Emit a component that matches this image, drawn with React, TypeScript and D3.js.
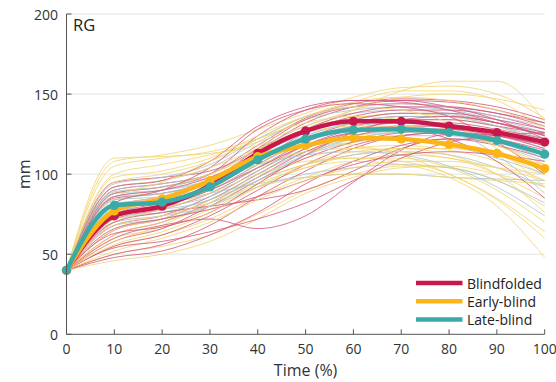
import * as d3 from 'd3';

const TIMES = [0, 10, 20, 30, 40, 50, 60, 70, 80, 90, 100];
const Y_TICKS = [0, 50, 100, 150, 200];

const GROUPS = ['Blindfolded', 'Early-blind', 'Late-blind'];

const MEAN_BLINDFOLDED = [40, 74, 80, 93, 113, 127, 133, 133, 130, 126, 120];
const MEAN_EARLY = [40, 77, 84.5, 96, 111, 118, 122.5, 122, 118.5, 113, 103.5];
const MEAN_LATE = [40, 80.5, 82.5, 92, 109, 122, 127.5, 128, 126, 121, 112.5];

const TRIALS_BLINDFOLDED = [
  [40, 95, 98, 102, 115, 132, 142, 146, 145, 140, 132],
  [40, 90, 94, 100, 118, 135, 144, 147, 146, 142, 134],
  [40, 85, 88, 96, 116, 134, 142, 144, 142, 138, 130],
  [40, 80, 86, 95, 112, 128, 138, 142, 142, 138, 132],
  [40, 78, 84, 92, 108, 126, 136, 140, 140, 136, 128],
  [40, 75, 82, 90, 106, 122, 132, 136, 136, 132, 124],
  [40, 72, 78, 88, 104, 120, 130, 134, 134, 130, 125],
  [40, 68, 74, 86, 102, 118, 128, 132, 132, 128, 122],
  [40, 65, 72, 84, 100, 116, 126, 130, 130, 126, 120],
  [40, 62, 70, 82, 98, 114, 124, 128, 128, 124, 118],
  [40, 58, 66, 80, 96, 110, 120, 126, 128, 124, 116],
  [40, 55, 62, 74, 90, 106, 118, 124, 126, 122, 115],
  [40, 50, 56, 68, 86, 102, 116, 124, 126, 124, 118],
  [40, 48, 52, 62, 76, 94, 108, 118, 122, 118, 110],
  [40, 60, 68, 72, 66, 74, 95, 115, 125, 124, 118],
  [40, 70, 76, 80, 84, 90, 102, 116, 122, 120, 112],
  [40, 88, 92, 100, 124, 140, 146, 146, 142, 134, 122],
  [40, 82, 90, 104, 128, 140, 144, 142, 136, 120, 100],
  [40, 74, 80, 90, 104, 118, 126, 128, 122, 108, 85],
  [40, 66, 72, 78, 86, 96, 106, 112, 114, 112, 108],
  [40, 92, 96, 108, 130, 142, 146, 145, 140, 132, 124],
  [40, 54, 58, 64, 72, 82, 96, 110, 120, 124, 126],
  [40, 86, 90, 98, 112, 126, 134, 138, 138, 134, 128],
  [40, 63, 67, 76, 94, 112, 126, 134, 136, 132, 126],
];

const TRIALS_EARLY = [
  [40, 108, 112, 118, 128, 138, 148, 154, 155, 150, 135],
  [40, 105, 110, 114, 122, 134, 145, 152, 152, 146, 128],
  [40, 110, 111, 113, 118, 128, 140, 152, 158, 158, 133],
  [40, 100, 106, 112, 120, 130, 140, 148, 150, 147, 140],
  [40, 95, 100, 108, 122, 136, 145, 148, 146, 140, 130],
  [40, 88, 92, 100, 115, 128, 135, 138, 136, 130, 120],
  [40, 80, 86, 95, 108, 118, 124, 126, 125, 120, 110],
  [40, 72, 80, 90, 104, 114, 120, 122, 120, 112, 100],
  [40, 65, 72, 84, 98, 110, 116, 118, 115, 108, 96],
  [40, 60, 66, 78, 92, 104, 112, 116, 116, 112, 106],
  [40, 55, 62, 72, 86, 98, 108, 112, 110, 100, 85],
  [40, 50, 55, 62, 75, 90, 100, 105, 104, 96, 80],
  [40, 46, 50, 58, 72, 88, 98, 104, 105, 100, 92],
  [40, 58, 68, 82, 96, 106, 110, 110, 104, 90, 70],
  [40, 70, 78, 88, 100, 108, 110, 108, 100, 84, 60],
  [40, 62, 70, 80, 94, 104, 108, 106, 98, 80, 48],
  [40, 82, 90, 100, 112, 120, 118, 112, 100, 85, 64],
  [40, 76, 84, 94, 106, 114, 116, 114, 110, 104, 96],
  [40, 92, 96, 104, 116, 126, 130, 130, 126, 118, 106],
  [40, 52, 60, 70, 84, 96, 104, 108, 108, 104, 100],
  [40, 85, 95, 108, 122, 132, 136, 134, 128, 118, 104],
  [40, 68, 74, 82, 92, 98, 100, 100, 98, 96, 94],
  [40, 98, 102, 110, 124, 136, 142, 140, 132, 116, 92],
  [40, 56, 64, 76, 92, 106, 114, 116, 112, 100, 76],
];

const TRIALS_LATE = [
  [40, 92, 96, 104, 120, 134, 140, 142, 140, 134, 126],
  [40, 90, 94, 100, 116, 130, 138, 140, 138, 132, 124],
  [40, 88, 90, 96, 112, 126, 134, 138, 137, 132, 125],
  [40, 86, 88, 94, 110, 124, 132, 134, 134, 130, 122],
  [40, 84, 86, 92, 108, 122, 130, 132, 131, 126, 118],
  [40, 82, 84, 90, 106, 120, 128, 130, 130, 125, 116],
  [40, 80, 82, 88, 104, 118, 126, 129, 128, 122, 112],
  [40, 78, 80, 86, 102, 116, 124, 127, 126, 120, 110],
  [40, 76, 78, 84, 100, 114, 122, 126, 125, 120, 112],
  [40, 74, 76, 82, 98, 112, 120, 124, 124, 118, 108],
  [40, 72, 76, 84, 96, 106, 112, 114, 112, 104, 92],
  [40, 70, 74, 80, 92, 100, 104, 106, 104, 96, 82],
  [40, 86, 90, 96, 106, 112, 114, 112, 105, 92, 74],
  [40, 78, 82, 88, 94, 98, 100, 100, 98, 97, 96],
  [40, 94, 98, 106, 122, 136, 142, 144, 142, 136, 130],
  [40, 68, 72, 80, 96, 112, 122, 126, 126, 120, 110],
  [40, 84, 88, 96, 114, 128, 134, 134, 128, 112, 88],
  [40, 80, 84, 92, 110, 124, 132, 136, 136, 130, 120],
  [40, 89, 92, 98, 110, 118, 122, 122, 118, 110, 100],
];

const COLORS = {
  Blindfolded: { mean: '#c8174b', thin: '#d4557a' },
  'Early-blind': { mean: '#fdb515', thin: '#f3d470' },
  'Late-blind': { mean: '#38aaa8', thin: '#a9c5cc' },
};

const W = 556;
const H = 382;
const FONT = '"Open Sans", "Noto Sans", sans-serif';

export default function App() {
  const x = d3.scaleLinear().domain([0, 100]).range([66.5, 544.7]);
  const y = d3.scaleLinear().domain([0, 200]).range([334.3, 14]);

  const line = d3.line<number>()
    .x((_, i) => x(TIMES[i]))
    .y(d => y(d))
    .curve(d3.curveMonotoneX);

  const groupsThin = [
    { name: 'Blindfolded', rows: TRIALS_BLINDFOLDED },
    { name: 'Early-blind', rows: TRIALS_EARLY },
    { name: 'Late-blind', rows: TRIALS_LATE },
  ];
  const maxRows = d3.max(groupsThin, g => g.rows.length) ?? 0;
  const thinPaths: { key: string; d: string; color: string }[] = [];
  // interleave the groups so no colour sits entirely on top
  for (let i = 0; i < maxRows; i++) {
    groupsThin.forEach(g => {
      const row = g.rows[i];
      if (row) thinPaths.push({ key: `${g.name}-${i}`, d: line(row) ?? '', color: COLORS[g.name].thin });
    });
  }

  const means = [
    { name: 'Blindfolded', values: MEAN_BLINDFOLDED },
    { name: 'Early-blind', values: MEAN_EARLY },
    { name: 'Late-blind', values: MEAN_LATE },
  ];

  return (
    <svg width={W} height={H} style={{ position: 'absolute', left: 0, top: 0, background: '#fff' }}>
      {/* Grid lines */}
      {Y_TICKS.filter(t => t > 0).map(t => (
        <line key={t} x1={x(0)} x2={x(100)} y1={y(t)} y2={y(t)} stroke="#e3e3e3" strokeWidth={1} />
      ))}

      {/* Individual trials */}
      {thinPaths.map(p => (
        <path key={p.key} d={p.d} fill="none" stroke={p.color} strokeWidth={0.9} opacity={0.9} />
      ))}

      {/* Group means */}
      {means.map(m => (
        <g key={m.name}>
          <path d={line(m.values) ?? ''} fill="none" stroke={COLORS[m.name].mean} strokeWidth={4.5} strokeLinejoin="round" />
          {m.values.map((v, i) => (
            <circle key={i} cx={x(TIMES[i])} cy={y(v)} r={4.6} fill={COLORS[m.name].mean} />
          ))}
        </g>
      ))}

      {/* Axes */}
      <line x1={x(0)} x2={x(0)} y1={y(0)} y2={y(200)} stroke="#555" strokeWidth={1} />
      <line x1={x(0)} x2={x(100)} y1={y(0)} y2={y(0)} stroke="#555" strokeWidth={1} />
      {Y_TICKS.map(t => (
        <g key={`y${t}`}>
          <line x1={x(0)} x2={x(0) + 5} y1={y(t)} y2={y(t)} stroke="#555" />
          <text x={58} y={y(t)} textAnchor="end" dominantBaseline="central" fontSize={14} fontFamily={FONT} fill="#333">{t}</text>
        </g>
      ))}
      {TIMES.map(t => (
        <g key={`x${t}`}>
          <line x1={x(t)} x2={x(t)} y1={y(0)} y2={y(0) - 5} stroke="#555" />
          <text x={x(t)} y={354} textAnchor="middle" fontSize={14} fontFamily={FONT} fill="#333">{t}</text>
        </g>
      ))}

      <text x={x(50)} y={376} textAnchor="middle" fontSize={16} fontFamily={FONT} fill="#333">Time (%)</text>
      <text transform={`translate(30,${y(100)}) rotate(-90)`} textAnchor="middle" fontSize={16} fontFamily={FONT} fill="#333">mm</text>
      <text x={73} y={31} fontSize={16.5} fontFamily={FONT} fill="#222">RG</text>

      {/* Legend */}
      {GROUPS.map((g, i) => (
        <g key={g} transform={`translate(416,${283 + i * 18.3})`}>
          <line x1={0} x2={46.5} y1={0} y2={0} stroke={COLORS[g].mean} strokeWidth={4.5} />
          <text x={51} y={0} dominantBaseline="central" fontSize={14} fontFamily={FONT} fill="#222">{g}</text>
        </g>
      ))}
    </svg>
  );
}
